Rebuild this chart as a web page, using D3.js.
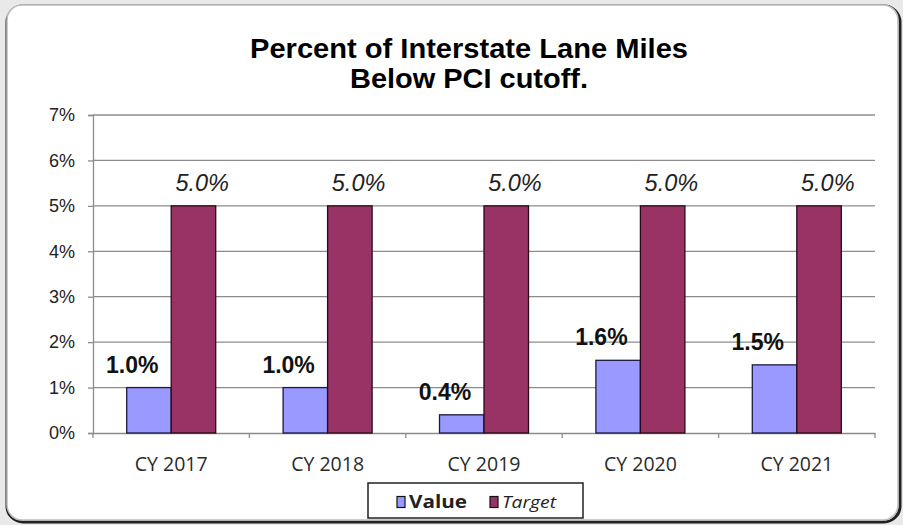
<!DOCTYPE html>
<html>
<head>
<meta charset="utf-8">
<script src="https://cdn.jsdelivr.net/npm/d3@7"></script>
<style>
  html, body { margin: 0; padding: 0; background: #e9e9e9; }
  svg { display: block; }
</style>
</head>
<body>
<svg id="chart" width="903" height="525"></svg>
<script>
// data
const categories = ["CY 2017", "CY 2018", "CY 2019", "CY 2020", "CY 2021"];
const values = [1.0, 1.0, 0.4, 1.6, 1.5];
const targets = [5.0, 5.0, 5.0, 5.0, 5.0];
const yTicks = [0, 1, 2, 3, 4, 5, 6, 7];
const seriesNames = ["Value", "Target"];

const svg = d3.select("#chart");
const width = +svg.attr("width");
const height = +svg.attr("height");
const margin = { top: 115, right: 28, bottom: 92, left: 93 };

// frame
svg.append("rect")
    .attr("x", 7).attr("y", 6)
    .attr("width", 893).attr("height", 516)
    .attr("rx", 16)
    .attr("fill", "#fff")
    .attr("stroke", "#222")
    .attr("stroke-width", 3);
svg.append("rect")
    .attr("x", 7).attr("y", 5)
    .attr("width", 891).attr("height", 515)
    .attr("rx", 15)
    .attr("fill", "#fff")
    .attr("stroke", "#bdbdbd")
    .attr("stroke-width", 1.5);

// title
const title = svg.append("text")
    .attr("text-anchor", "middle")
    .style("font-family", "Arial, 'Liberation Sans', sans-serif")
    .style("font-weight", "bold")
    .style("font-size", "28px")
    .attr("fill", "#000");
title.append("tspan").attr("x", 469).attr("y", 58)
    .attr("textLength", 438).attr("lengthAdjust", "spacingAndGlyphs")
    .text("Percent of Interstate Lane Miles");
title.append("tspan").attr("x", 469).attr("y", 88)
    .attr("textLength", 238).attr("lengthAdjust", "spacingAndGlyphs")
    .text("Below PCI cutoff.");

const plot = svg.append("g");

const x = d3.scaleBand()
    .domain(categories)
    .range([margin.left, width - margin.right]);

const y = d3.scaleLinear()
    .domain([0, 7])
    .range([height - margin.bottom, margin.top]);

// gridlines
plot.selectAll("line.grid").data(yTicks.slice(1))
    .join("line")
    .attr("class", "grid")
    .attr("x1", margin.left).attr("x2", width - margin.right)
    .attr("y1", d => y(d)).attr("y2", d => y(d))
    .attr("stroke", "#8c8c8c")
    .attr("stroke-width", 1.3);

// y axis
const yAxis = plot.append("g")
    .attr("transform", `translate(${margin.left},0)`)
    .call(d3.axisLeft(y).tickValues(yTicks).tickFormat(d => d + "%").tickSize(5).tickPadding(13));
yAxis.select(".domain").attr("stroke", "#8c8c8c").attr("stroke-width", 1.3);
yAxis.selectAll(".tick line").attr("stroke", "#8c8c8c").attr("stroke-width", 1.3);
yAxis.selectAll("text")
    .style("font-family", "Arial, 'Liberation Sans', sans-serif")
    .style("font-size", "18px")
    .attr("fill", "#222");

// x axis
const xAxis = plot.append("g")
    .attr("transform", `translate(0,${y(0)})`)
    .call(d3.axisBottom(x).tickSize(0).tickPadding(24));
xAxis.select(".domain").attr("stroke", "#8c8c8c").attr("stroke-width", 1.3);
xAxis.selectAll("text")
    .style("font-family", "'Open Sans', Lato, sans-serif")
    .style("font-size", "19.5px")
    .attr("fill", "#2a2a2a");
// category separators
const bounds = categories.map(c => x(c)).concat([x.range()[1]]);
plot.selectAll("line.sep").data(bounds)
    .join("line")
    .attr("class", "sep")
    .attr("x1", d => d).attr("x2", d => d)
    .attr("y1", y(0)).attr("y2", y(0) + 5)
    .attr("stroke", "#8c8c8c")
    .attr("stroke-width", 1.3);

const barW = 44.5;
const valueColor = "#9999ff";
const targetColor = "#993366";

// value bars
plot.selectAll("rect.value").data(values)
    .join("rect")
    .attr("class", "value")
    .attr("x", (d, i) => x(categories[i]) + x.bandwidth() / 2 - barW)
    .attr("y", d => y(d))
    .attr("width", barW)
    .attr("height", d => y(0) - y(d))
    .attr("fill", valueColor)
    .attr("stroke", "#1a1a40")
    .attr("stroke-width", 1.3);

// target bars
plot.selectAll("rect.target").data(targets)
    .join("rect")
    .attr("class", "target")
    .attr("x", (d, i) => x(categories[i]) + x.bandwidth() / 2)
    .attr("y", d => y(d))
    .attr("width", barW)
    .attr("height", d => y(0) - y(d))
    .attr("fill", targetColor)
    .attr("stroke", "#2a0a18")
    .attr("stroke-width", 1.3);

// value labels
plot.selectAll("text.vlabel").data(values)
    .join("text")
    .attr("class", "vlabel")
    .attr("text-anchor", "middle")
    .attr("x", (d, i) => x(categories[i]) + x.bandwidth() / 2 - 39)
    .attr("y", d => y(d) - 15)
    .style("font-family", "Arial, 'Liberation Sans', sans-serif")
    .style("font-weight", "bold")
    .style("font-size", "23px")
    .attr("fill", "#111")
    .text(d => d.toFixed(1) + "%");

// target labels
plot.selectAll("text.tlabel").data(targets)
    .join("text")
    .attr("class", "tlabel")
    .attr("text-anchor", "middle")
    .attr("x", (d, i) => x(categories[i]) + x.bandwidth() / 2 + 31)
    .attr("y", d => y(d) - 15)
    .style("font-family", "Arial, 'Liberation Sans', sans-serif")
    .style("font-style", "italic")
    .style("font-size", "23.5px")
    .attr("fill", "#222")
    .text(d => d.toFixed(1) + "%");

// legend
const legend = svg.append("g").attr("transform", "translate(368,483)");
legend.append("rect")
    .attr("width", 215).attr("height", 35)
    .attr("fill", "#fff")
    .attr("stroke", "#222")
    .attr("stroke-width", 1.5);
const legendItems = [
    { name: seriesNames[0], color: valueColor, x: 29, len: 58, style: "normal", weight: "bold" },
    { name: seriesNames[1], color: targetColor, x: 122, len: 54, style: "italic", weight: "normal" }
];
legendItems.forEach(d => {
    legend.append("rect")
        .attr("x", d.x).attr("y", 13.5)
        .attr("width", 8).attr("height", 11)
        .attr("fill", d.color)
        .attr("stroke", "#111")
        .attr("stroke-width", 1.2);
    legend.append("text")
        .attr("x", d.x + 12).attr("y", 24.5)
        .attr("textLength", d.len)
        .attr("lengthAdjust", "spacingAndGlyphs")
        .style("font-family", "'Open Sans', Lato, sans-serif")
        .style("font-size", "17px")
        .style("font-style", d.style)
        .style("font-weight", d.weight)
        .attr("fill", "#222")
        .text(d.name);
});
</script>
</body>
</html>
